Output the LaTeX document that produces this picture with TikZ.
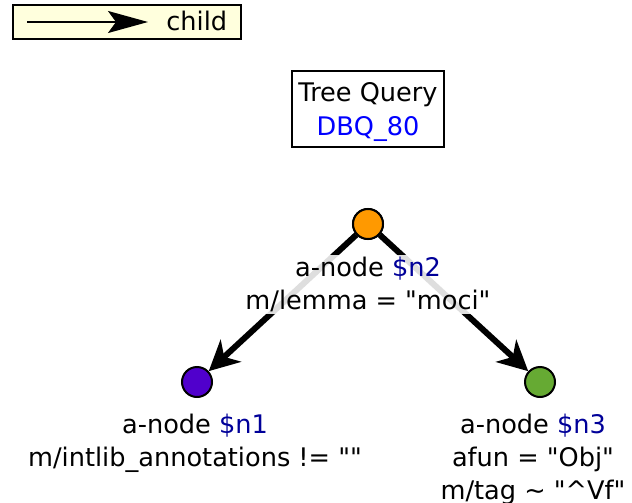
\documentclass[tikz,border=0pt]{standalone}
\usepackage{fontspec}
\setmainfont{DejaVu Sans}
\usetikzlibrary{arrows.meta}

\definecolor{legendfill}{HTML}{FFFFDD}
\definecolor{dbqblue}{HTML}{0000FF}
\definecolor{varblue}{HTML}{000099}
\definecolor{nodeorange}{HTML}{FF9900}
\definecolor{nodepurple}{HTML}{5000CC}
\definecolor{nodegreen}{HTML}{66AA33}
\newcommand{\qq}{\textquotedbl}

\begin{document}
\begin{tikzpicture}[x=0.5pt, y=-0.5pt, font=\fontsize{12.8}{16.5}\selectfont,
    anode/.style={circle, draw=black, line width=1pt, minimum size=15pt, inner sep=0pt},
    childedge/.style={line width=3pt, -{Stealth[length=15pt, width=15pt, inset=4.5pt]}},
    nodelabel/.style={align=center, anchor=north, fill=white, fill opacity=0.87, text opacity=1, inner sep=1pt}]
        \useasboundingbox (0,0) rectangle (632,503);

        % Legend
        \draw[line width=1pt, fill=legendfill] (13,5) rectangle (241,39);
        \coordinate (lgstart) at (27,22);
        \coordinate (lgend) at (148,22);
        \draw[line width=1pt, -{Stealth[length=20pt, width=11pt, inset=4pt]}] (lgstart) -- (lgend);
        \node[anchor=west, inner sep=0pt] (lgtext) at (166,21) {child};

        % Query title
        \draw[line width=0.75pt] (292,71) rectangle (444,147);
        \node[align=center, font=\fontsize{12.8}{17}\selectfont, inner sep=0pt] (query) at (368,112)
            {Tree Query\\{\color{dbqblue}DBQ\_80}};

        % Tree nodes
        \node[anode, fill=nodeorange] (n2) at (368,224) {};
        \node[anode, fill=nodepurple] (n1) at (197,382) {};
        \node[anode, fill=nodegreen]  (n3) at (540,382) {};

        \draw[childedge] (n2) -- (n1);
        \draw[childedge] (n2) -- (n3);
        % circles stay on top of the edges
        \node[anode, fill=nodeorange] at (n2) {};

        % Labels
        \node[nodelabel] (n2lbl) at (368,255) {a-node {\color{varblue}\$n2}\\m/lemma = \qq moci\qq};
        \node[nodelabel] (n1lbl) at (195,412) {a-node {\color{varblue}\$n1}\\m/intlib\_annotations != \qq\qq};
        \node[nodelabel] (n3lbl) at (533,412) {a-node {\color{varblue}\$n3}\\afun = \qq Obj\qq\\m/tag \textasciitilde{} \qq\textasciicircum{}Vf\qq};

    \end{tikzpicture}
\end{document}
